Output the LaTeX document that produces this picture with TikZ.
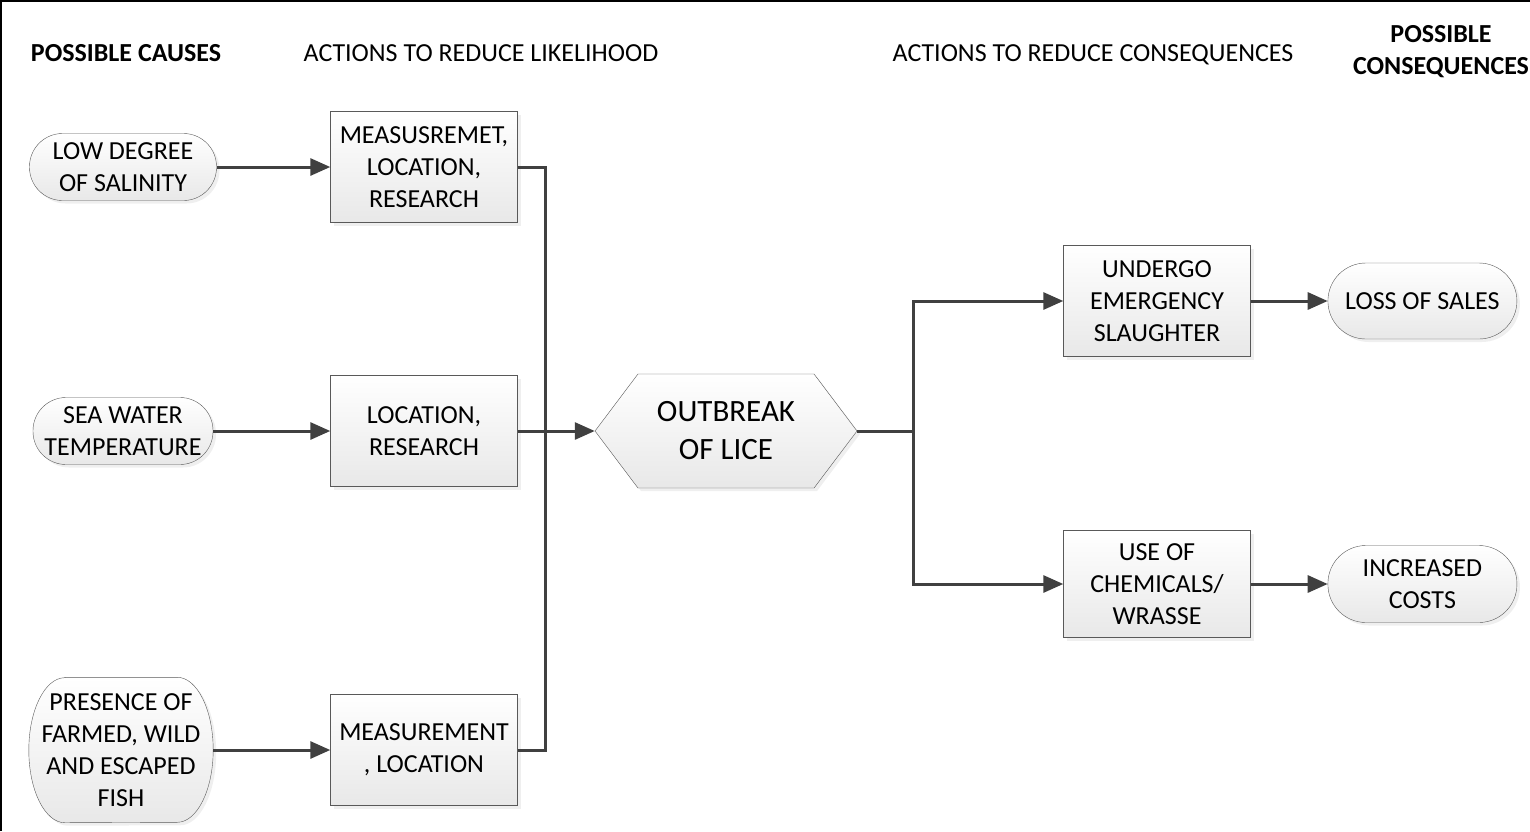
\documentclass[tikz,border=0pt]{standalone}
\usepackage{fontspec}
\setmainfont{Carlito}
\usetikzlibrary{positioning,shapes.symbols,shadows,arrows.meta,backgrounds}

\definecolor{linegray}{HTML}{404040}
\definecolor{edgegray}{HTML}{595959}

\begin{document}
\begin{tikzpicture}[
x=1pt, y=-1pt,
every node/.style={font=\fontsize{26}{32}\selectfont, align=center},
headnode/.style={inner sep=0pt},
boxlook/.style={draw=edgegray, thin, top color=white, bottom color=black!9, drop shadow={shadow xshift=3pt, shadow yshift=-3pt, fill=black!12}},
causenode/.style={rectangle, rounded corners=33pt, boxlook, minimum width=187pt, minimum height=67pt, inner sep=2pt},
actionnode/.style={rectangle, boxlook, minimum width=187pt, minimum height=111pt, inner sep=2pt},
eventnode/.style={signal, signal to=west and east, signal pointer angle=106, boxlook, minimum width=262pt, minimum height=114pt, font=\fontsize{31}{38}\selectfont},
linkline/.style={draw=linegray, line width=3pt},
linkarrow/.style={linkline, -{Triangle[length=20pt, width=17pt]}},
]

\useasboundingbox (0,0) rectangle (1530,831);

% Frame
\draw[line width=2.5pt] (1.2,831) -- (1.2,1.2) -- (1530,1.2);

% Headings
\node[headnode, font=\fontsize{26}{32}\selectfont\bfseries] (hcause) at (126,53) {POSSIBLE CAUSES};
\node[headnode] (hlike) at (481,53) {ACTIONS TO REDUCE LIKELIHOOD};
\node[headnode] (hcons) at (1093,55) {ACTIONS TO REDUCE CONSEQUENCES};
\node[headnode, font=\fontsize{26}{32}\selectfont\bfseries] (hposs) at (1441,52) {POSSIBLE\\CONSEQUENCES};

% Causes
\node[causenode] (salinity) at (123,167) {LOW DEGREE\\OF SALINITY};
\node[causenode, minimum width=180pt] (temp) at (123,431) {SEA WATER\\TEMPERATURE};
\node[minimum width=184pt, minimum height=145pt, inner sep=0pt] (fish) at (121,750) {PRESENCE OF\\FARMED, WILD\\AND ESCAPED\\FISH};
\begin{scope}[on background layer]
\shade[boxlook]
  ([xshift=36pt]fish.north west) -- ([xshift=-36pt]fish.north east)
  arc[start angle=90, end angle=-90, x radius=36pt, y radius=72.5pt]
  -- ([xshift=36pt]fish.south west)
  arc[start angle=270, end angle=90, x radius=36pt, y radius=72.5pt] -- cycle;
\end{scope}

% Actions to reduce likelihood
\node[actionnode] (measloc) at (424,167) {MEASUSREMET,\\LOCATION,\\RESEARCH};
\node[actionnode] (locres) at (424,431) {LOCATION,\\RESEARCH};
\node[actionnode] (measure) at (424,750) {MEASUREMENT\\, LOCATION};

% Event
\node[eventnode] (lice) at (726,431) {OUTBREAK\\OF LICE};

% Actions to reduce consequences
\node[actionnode] (slaughter) at (1157,301) {UNDERGO\\EMERGENCY\\SLAUGHTER};
\node[actionnode, minimum height=107pt] (chemicals) at (1157,584) {USE OF\\CHEMICALS/\\WRASSE};

% Consequences
\node[causenode, minimum width=189pt, minimum height=76pt, rounded corners=38pt] (sales) [right=77pt of slaughter] {LOSS OF SALES};
\node[causenode, minimum width=189pt, minimum height=77pt, rounded corners=38pt] (costs) [right=77pt of chemicals] {INCREASED\\COSTS};

% Junctions
\coordinate (joinL) at (545,431);
\coordinate (joinR) at (913,431);

% Arrows
\draw[linkarrow] (salinity.east) -- (measloc.west);
\draw[linkarrow] (temp.east) -- (locres.west);
\draw[linkarrow] (fish.east |- measure.west) -- (measure.west);
\draw[linkline] (measloc.east) -| (joinL);
\draw[linkline] (measure.east) -| (joinL);
\draw[linkarrow] (locres.east) -- (lice.west);
\draw[linkline] (lice.east) -- (joinR);
\draw[linkarrow] (joinR) |- (slaughter.west);
\draw[linkarrow] (joinR) |- (chemicals.west);
\draw[linkarrow] (slaughter.east) -- (sales.west);
\draw[linkarrow] (chemicals.east) -- (costs.west);

\end{tikzpicture}
\end{document}
